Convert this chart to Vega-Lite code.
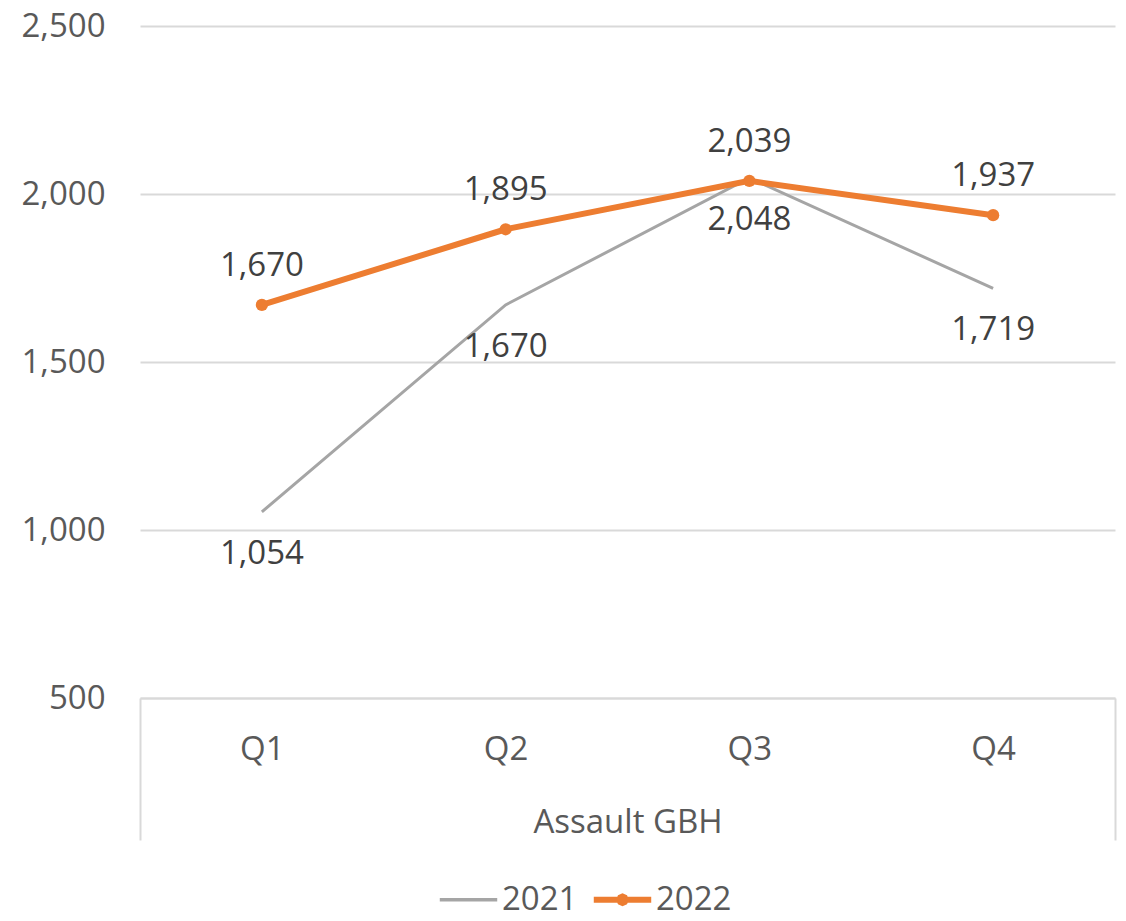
{
  "$schema": "https://vega.github.io/schema/vega-lite/v6.json",
  "width": 975,
  "height": 672,
  "autosize": "none",
  "padding": {"left": 140, "top": 26, "right": 11, "bottom": 223},
  "background": "white",
  "config": {"view": {"stroke": null}, "font": "Open Sans"},
  "data": {
    "values": [
      {"quarter": "Q1", "year": "2021", "value": 1054},
      {"quarter": "Q2", "year": "2021", "value": 1670},
      {"quarter": "Q3", "year": "2021", "value": 2048},
      {"quarter": "Q4", "year": "2021", "value": 1719},
      {"quarter": "Q1", "year": "2022", "value": 1670},
      {"quarter": "Q2", "year": "2022", "value": 1895},
      {"quarter": "Q3", "year": "2022", "value": 2039},
      {"quarter": "Q4", "year": "2022", "value": 1937}
    ]
  },
  "encoding": {
    "x": {
      "field": "quarter",
      "type": "ordinal",
      "title": "Assault GBH",
      "scale": {"type": "band", "paddingInner": 0, "paddingOuter": 0},
      "axis": {
        "labelAngle": 0,
        "domainColor": "#d9d9d9",
        "domainWidth": 2,
        "tickBand": "extent",
        "tickColor": "#d9d9d9",
        "tickWidth": 2,
        "tickSize": 142,
        "tickOpacity": {"condition": {"test": "datum.value === 'Q4' || datum.extra", "value": 1}, "value": 0},
        "labelFontSize": 33,
        "labelColor": "#595959",
        "labelPadding": -107,
        "titleFontSize": 33,
        "titleFontWeight": "normal",
        "titleColor": "#595959",
        "titlePadding": -35
      }
    },
    "y": {
      "field": "value",
      "type": "quantitative",
      "title": null,
      "scale": {"domain": [500, 2500], "nice": false, "zero": false},
      "axis": {
        "values": [500, 1000, 1500, 2000, 2500],
        "format": ",.0f",
        "domain": false,
        "ticks": false,
        "gridColor": "#d9d9d9",
        "gridWidth": 2,
        "labelFontSize": 33,
        "labelColor": "#595959",
        "labelPadding": 35
      }
    }
  },
  "layer": [
    {
      "mark": {"type": "line"},
      "encoding": {
        "color": {
          "field": "year",
          "type": "nominal",
          "scale": {"domain": ["2021", "2022"], "range": ["#A5A5A5", "#ED7D31"]},
          "legend": {
            "title": null,
            "orient": "none",
            "legendX": 312,
            "legendY": 857,
            "direction": "horizontal",
            "labelFontSize": 33,
            "labelColor": "#595959",
            "labelOffset": 17,
            "columnPadding": 3,
            "symbolSize": 3300,
            "symbolType": "stroke",
            "encode": {
              "symbols": {
                "update": {
                  "shape": {"signal": "datum.value === '2022' ? 'M-1,0L1,0M0.11,0L0.078,0.078L0,0.11L-0.078,0.078L-0.11,0L-0.078,-0.078L0,-0.11L0.078,-0.078Z' : 'M-1,0L1,0'"},
                  "strokeWidth": {"signal": "datum.value === '2022' ? 6 : 3.5"},
                  "fill": {"signal": "datum.value === '2022' ? '#ED7D31' : 'transparent'"}
                }
              }
            }
          }
        },
        "strokeWidth": {"condition": {"test": "datum.year === '2022'", "value": 6}, "value": 3}
      }
    },
    {
      "transform": [{"filter": "datum.year === '2022'"}],
      "mark": {"type": "point", "filled": true, "size": 150, "opacity": 1, "color": "#ED7D31"}
    },
    {
      "transform": [{"filter": "datum.year === '2022'"}],
      "mark": {"type": "text", "dy": -39, "fontSize": 33, "color": "#404040", "baseline": "middle"},
      "encoding": {"text": {"field": "value", "type": "quantitative", "format": ","}}
    },
    {
      "transform": [{"filter": "datum.year === '2021'"}],
      "mark": {"type": "text", "dy": 42, "fontSize": 33, "color": "#404040", "baseline": "middle"},
      "encoding": {"text": {"field": "value", "type": "quantitative", "format": ","}}
    }
  ]
}
